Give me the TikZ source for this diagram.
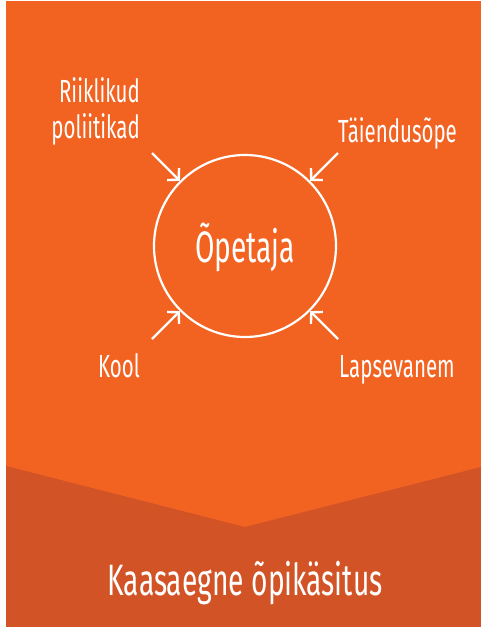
\documentclass[tikz,border=0pt]{standalone}
\usepackage{fontspec}
\setmainfont[FakeStretch=0.64]{Fira Sans}
\usetikzlibrary{arrows.meta}

\definecolor{bgorange}{HTML}{F26322}
\definecolor{bgdark}{HTML}{D25326}

\begin{document}
\begin{tikzpicture}
  [x=1pt,y=-1pt,
   label/.style={text=white,font=\fontsize{32}{36}\selectfont,inner sep=0pt},
   big/.style={text=white,font=\fontsize{44}{48}\selectfont,inner sep=0pt},
   influence/.style={white,line width=2.4pt,-{Straight Barb[length=8pt,width=17pt]}}]
  \useasboundingbox (0,0) rectangle (481,627);
  \fill[bgorange] (6,1) rectangle (481,627);
  \fill[bgdark] (6,466) -- (245,527) -- (481,467) -- (481,627) -- (6,627) -- cycle;

  \node[circle,draw=white,line width=2.2pt,minimum size=182pt,inner sep=0pt] (teacher) at (245,246) {};
  \node[big,anchor=base] (tname) at (245,262) {Õpetaja};

  \node[label,anchor=base east,align=right] (policy) at (140,138) {Riiklikud\\poliitikad};
  \node[label,anchor=base west] (training) at (338,142) {Täiendusõpe};
  \node[label,anchor=base east] (school) at (140,377) {Kool};
  \node[label,anchor=base west] (parent) at (339,377) {Lapsevanem};
  \node[big,anchor=base] (approach) at (245,595) {Kaasaegne õpikäsitus};

  \coordinate (tl) at (152,153);
  \coordinate (tr) at (338,153);
  \coordinate (bl) at (152,339);
  \coordinate (br) at (338,339);

  \foreach \from/\to in {tl/135,tr/45,bl/225,br/315}
    \draw[influence] (\from) -- (teacher.\to);

\end{tikzpicture}
\end{document}
